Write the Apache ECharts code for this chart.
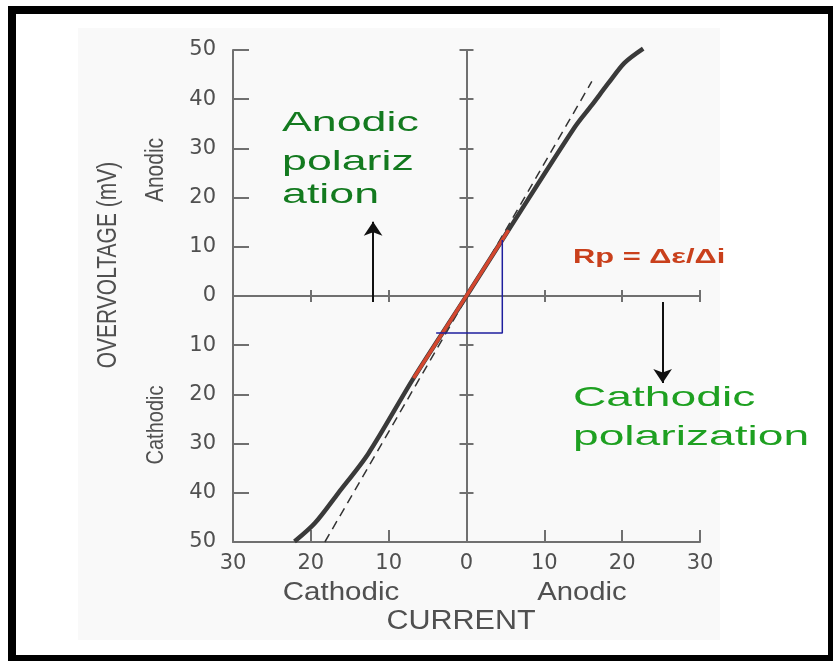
<!DOCTYPE html>
<html>
<head>
<meta charset="utf-8">
<script src="https://cdn.jsdelivr.net/npm/echarts@6/dist/echarts.min.js"></script>
<style>
html, body { margin: 0; padding: 0; background: #fff; }
#main { width: 833px; height: 661px; }
</style>
</head>
<body>
<div id="main"></div>
<script>
// axis ticks (labels show absolute value on both sides of zero)
var currentTicks = [-30, -20, -10, 0, 10, 20, 30];
var voltageTicks = [-50, -40, -30, -20, -10, 0, 10, 20, 30, 40, 50];

// polarization curve [current, overvoltage]
var curvePoints = [[-22.1, -49.9], [-19.5, -46.2], [-16.5, -40.1], [-12.6, -32.0], [-6.8, -16.7],
                   [0, 0], [5.4, 13.4], [13.9, 34.3], [16.1, 38.8], [18.25, 43.3], [20.3, 47.4], [22.7, 50.3]];
// linear tangent through the origin (dashed)
var tangentPoints = [[-18.2, -50], [16.1, 43.6]];
// linear region highlighted in red
var linearPoints = [[-6.8, -16.7], [5.4, 13.4]];
// delta-e / delta-i construction
var deltaPoints = [[4.6, 11.4], [4.6, -7.5], [-3.9, -7.5]];
// arrows for anodic / cathodic polarization
var anodicArrow = [[-12, -1.2], [-12, 15.1]];
var cathodicArrow = [[25.2, -1.2], [25.2, -17.7]];

var axisColor = '#707070';
var labelColor = '#505050';
var sans = '"Liberation Sans", Arial, sans-serif';

var myChart = echarts.init(document.getElementById('main'), null, { renderer: 'canvas' });

function absLabel(v) { return Math.abs(v) + ''; }

// one x and one y axis sit at the border, the others cross at zero (ticks on both sides)
function xAxisAt(onZero, inside, len, showLine, showLabel) {
    return {
        type: 'value', position: 'bottom',
        min: currentTicks[0], max: currentTicks[currentTicks.length - 1], interval: 10,
        axisLine: { show: showLine, onZero: onZero, onZeroAxisIndex: 0, lineStyle: { color: axisColor, width: 2 } },
        axisTick: { show: true, inside: inside, length: len, lineStyle: { color: axisColor, width: 2 } },
        axisLabel: { show: showLabel, formatter: absLabel, color: labelColor, fontFamily: 'DejaVu Sans', fontSize: 21, margin: 11 },
        splitLine: { show: false }
    };
}
function yAxisAt(onZero, inside, len, showLine, showLabel) {
    return {
        type: 'value', position: 'left',
        min: voltageTicks[0], max: voltageTicks[voltageTicks.length - 1], interval: 10,
        axisLine: { show: showLine, onZero: onZero, onZeroAxisIndex: 0, lineStyle: { color: axisColor, width: 2 } },
        axisTick: { show: true, inside: inside, length: len, lineStyle: { color: axisColor, width: 2 } },
        axisLabel: { show: showLabel, formatter: absLabel, color: labelColor, fontFamily: 'DejaVu Sans', fontSize: 21, margin: 17 },
        splitLine: { show: false }
    };
}

function label(txt, x, y, size, color, opts) {
    opts = opts || {};
    return {
        type: 'text', x: x, y: y, z: 50,
        rotation: opts.rotation || 0,
        scaleX: opts.sx || 1, scaleY: opts.sy || 1,
        style: {
            text: txt, x: 0, y: 0,
            font: (opts.bold ? 'bold ' : '') + size + 'px ' + sans,
            fill: color,
            align: opts.align || 'left',
            verticalAlign: 'middle'
        }
    };
}

var option = {
    animation: false,
    grid: { left: 233, right: 133, top: 50, bottom: 119 },
    xAxis: [
        xAxisAt(false, true, 12, true, true),
        xAxisAt(true, false, 6, true, false),
        xAxisAt(true, true, 6, false, false)
    ],
    yAxis: [
        yAxisAt(false, true, 16, true, true),
        yAxisAt(true, false, 7, true, false),
        yAxisAt(true, true, 7, false, false)
    ],
    graphic: [
        // faint scanned page behind the plot
        { type: 'rect', z: -10, shape: { x: 78, y: 28, width: 642, height: 612 }, style: { fill: '#f9f9f9' } },
        // black frame
        { type: 'rect', z: 100, shape: { x: 12, y: 10, width: 820, height: 649 }, style: { fill: null, stroke: '#000', lineWidth: 8 } },

        label('OVERVOLTAGE (mV)', 108, 265, 21, labelColor, { rotation: Math.PI / 2, align: 'center', sy: 1.3 }),
        label('Anodic', 156, 170, 21, labelColor, { rotation: Math.PI / 2, align: 'center', sy: 1.2 }),
        label('Cathodic', 156, 425, 20, labelColor, { rotation: Math.PI / 2, align: 'center', sy: 1.2 }),

        label('Cathodic', 341, 593, 25, labelColor, { align: 'center', sx: 1.18 }),
        label('Anodic', 582, 593, 25, labelColor, { align: 'center', sx: 1.17 }),
        label('CURRENT', 461, 622, 27, labelColor, { align: 'center', sx: 1.13 }),

        label('Anodic', 282, 123, 28.5, '#137a1f', { sx: 1.57 }),
        label('polariz', 282, 162, 28.5, '#137a1f', { sx: 1.57 }),
        label('ation', 282, 195, 28.5, '#137a1f', { sx: 1.57 }),

        label('Cathodic', 573, 398, 28.5, '#1ea021', { sx: 1.62 }),
        label('polarization', 573, 437, 28.5, '#1ea021', { sx: 1.62 }),

        label('Rp = \u0394\u03b5/\u0394i', 573, 258, 19.5, '#c9401c', { bold: true, sx: 1.58 })
    ],
    series: [
        {
            type: 'line', name: 'tangent', data: tangentPoints,
            showSymbol: false, symbol: 'none', clip: false, z: 3,
            lineStyle: { color: '#333', width: 1.5, type: [9, 6] }
        },
        {
            type: 'line', name: 'curve', data: curvePoints,
            showSymbol: false, symbol: 'none', clip: false, z: 4,
            smooth: 0.3,
            lineStyle: { color: '#3a3a3a', width: 4.5 }
        },
        {
            type: 'line', name: 'linear', data: linearPoints,
            showSymbol: false, symbol: 'none', z: 5,
            lineStyle: { color: '#d4472f', width: 3.5 }
        },
        {
            type: 'line', name: 'delta', data: deltaPoints,
            showSymbol: false, symbol: 'none', z: 6,
            lineStyle: { color: '#1f1f9e', width: 1.5 }
        },
        {
            type: 'lines', coordinateSystem: 'cartesian2d', z: 7,
            symbol: ['none', 'arrow'], symbolSize: 14,
            lineStyle: { color: '#111', width: 2, opacity: 1 },
            data: [{ coords: anodicArrow }, { coords: cathodicArrow }]
        }
    ]
};

myChart.setOption(option);
</script>
</body>
</html>
